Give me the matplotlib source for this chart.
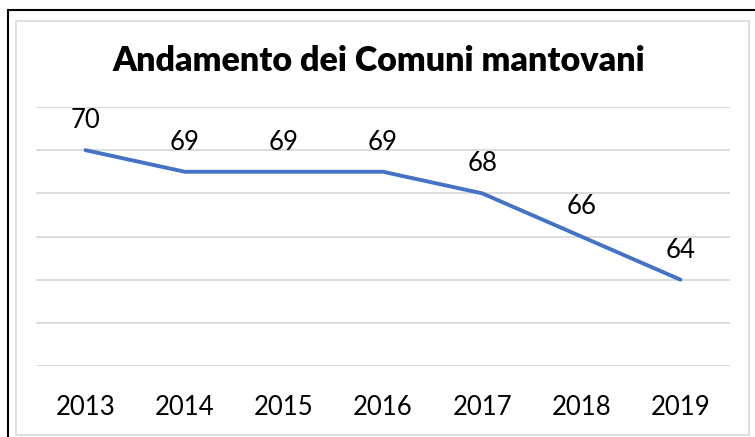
import matplotlib
matplotlib.use('agg')
import matplotlib.pyplot as plt
from matplotlib.patches import Rectangle

years = ['2013', '2014', '2015', '2016', '2017', '2018', '2019']
comuni = [70, 69, 69, 69, 68, 66, 64]

W, H = 755, 437
fig = plt.figure(figsize=(W / 100, H / 100), dpi=100)
plt.rcParams['font.family'] = ['Lato', 'DejaVu Sans']

# outer frames (black one runs off the right/bottom edge)
fig.patches.append(Rectangle((8 / W, -0.1), 1.2, 1 - 10 / H + 0.1, transform=fig.transFigure,
                             fill=False, edgecolor='black', linewidth=1.5))
fig.patches.append(Rectangle((16 / W, 1 - 435 / H), (749 - 16) / W, (435 - 21) / H,
                             transform=fig.transFigure, fill=False, edgecolor='#d9d9d9', linewidth=1.2))

ax = fig.add_axes([36 / W, 1 - 366 / H, (730 - 36) / W, (366 - 107) / H])
x = list(range(len(years)))
ax.plot(x, comuni, color='#4472c4', linewidth=2.8, solid_capstyle='round', zorder=3)
for xi, v in zip(x, comuni):
    ax.annotate(str(v), (xi, v), xytext=(0, 22), textcoords='offset pixels',
                ha='center', va='baseline', fontsize=18.5, color='black')

ax.set_xlim(-0.5, len(years) - 0.5)
ax.set_ylim(60, 72)
ax.set_yticks(range(60, 73, 2))
ax.yaxis.grid(True, color='#d9d9d9', linewidth=1.3)
ax.set_axisbelow(True)
ax.tick_params(axis='y', left=False, labelleft=False)
ax.set_xticks(x)
ax.set_xticklabels(years, fontsize=18.5)
ax.tick_params(axis='x', length=0, pad=21)
for s in ax.spines.values():
    s.set_visible(False)

fig.text(379 / W, 1 - 61 / H, 'Andamento dei Comuni mantovani', ha='center', va='center',
         fontsize=24.5, fontweight='heavy')

fig.savefig('out.png', dpi=100)
